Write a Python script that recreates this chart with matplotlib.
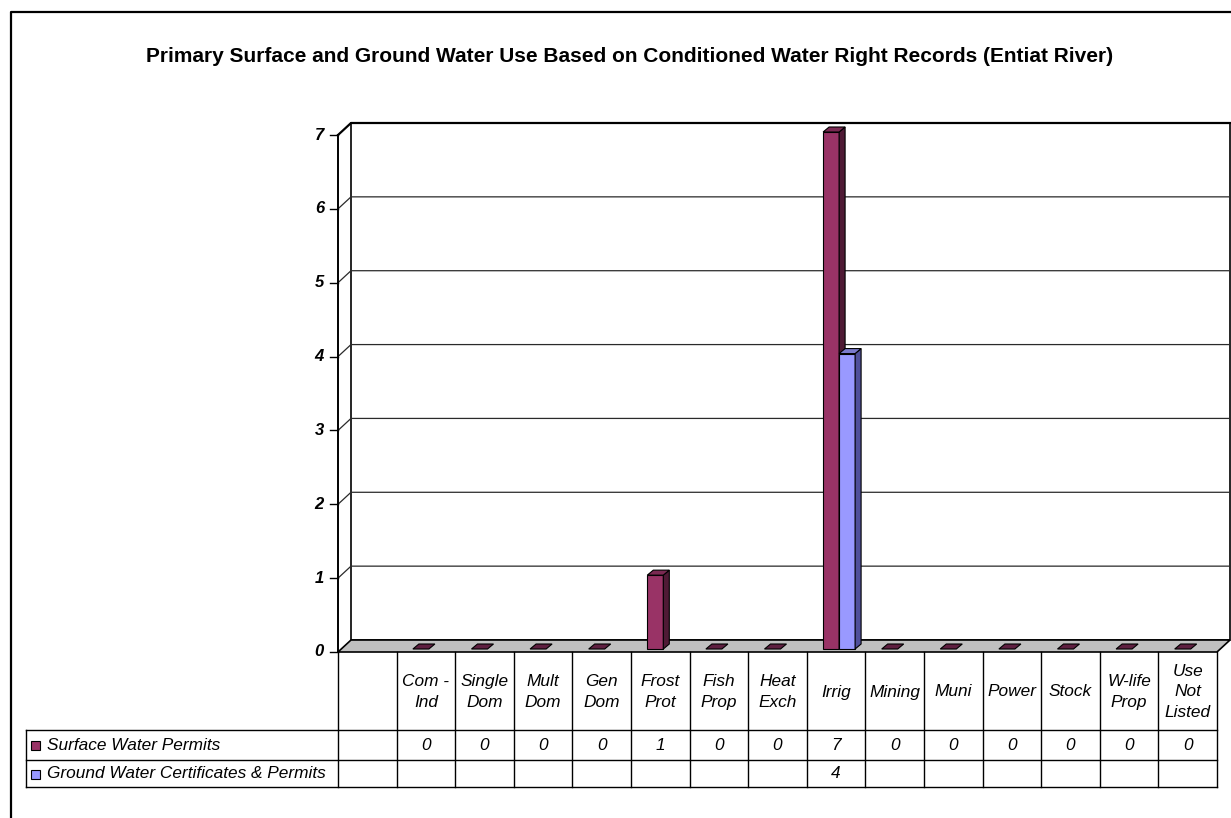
import matplotlib
matplotlib.use("Agg")
import matplotlib.pyplot as plt
from matplotlib.patches import Polygon, Rectangle
from matplotlib.lines import Line2D
from matplotlib.transforms import IdentityTransform


# Water right records per use category (Entiat River)
categories = [
    "Com -\nInd", "Single\nDom", "Mult\nDom", "Gen\nDom", "Frost\nProt",
    "Fish\nProp", "Heat\nExch", "Irrig", "Mining", "Muni", "Power",
    "Stock", "W-life\nProp", "Use\nNot\nListed",
]
surface_permits = [0, 0, 0, 0, 1, 0, 0, 7, 0, 0, 0, 0, 0, 0]
ground_certs = [None, None, None, None, None, None, None, 4,
                None, None, None, None, None, None]
series_names = ["Surface Water Permits", "Ground Water Certificates & Permits"]
y_ticks = [0, 1, 2, 3, 4, 5, 6, 7]

TITLE = ("Primary Surface and Ground Water Use Based on Conditioned "
         "Water Right Records (Entiat River)")

# series colours: front, side, top
COLORS = [
    ("#993366", "#4f1a35", "#7a2952"),
    ("#9999ff", "#50509a", "#7a7acc"),
]
FLOOR = "#c0c0c0"
FONT = "Liberation Sans"

W, H = 1231, 818
# front plane of the plot in pixels (left, right, y at top value, y at zero)
PL, PR, PT, PB = 338, 1217, 135, 652
DEPTH = (13, 12)          # wall depth offset (right, up)
BAR_FRONT = (3, 3)
BAR_BACK = (9, 8)
BAR_W = 0.273             # width of one bar in category units

fig = plt.figure(figsize=(W / 100, H / 100), dpi=100)
ax = fig.add_axes([PL / W, 1 - PB / H, (PR - PL) / W, (PB - PT) / H])
ax.set_xlim(-1.5, len(categories) - 0.5)
ax.set_ylim(0, 7)
ax.axis("off")

ov = fig.add_axes([0, 0, 1, 1])
ov.set_xlim(0, W)
ov.set_ylim(H, 0)
ov.axis("off")

ID = IdentityTransform()


def px(x, y, off=(0, 0)):
    xd, yd = ax.transData.transform((x, y))
    return (xd + off[0], yd + off[1])


def poly(pts, fc, ec="black", lw=0.8, z=2):
    ov.add_patch(Polygon(pts, closed=True, facecolor=fc, edgecolor=ec,
                         linewidth=lw, transform=ID, zorder=z, clip_on=False))


def line(pts, color="black", lw=1.0, z=2):
    xs, ys = zip(*pts)
    ov.add_line(Line2D(xs, ys, color=color, linewidth=lw, transform=ID,
                       zorder=z, clip_on=False))


x_lo, x_hi = ax.get_xlim()
y_top = max(y_ticks)

# back wall
poly([px(x_lo, 0, DEPTH), px(x_hi, 0, DEPTH), px(x_hi, y_top, DEPTH),
      px(x_lo, y_top, DEPTH)], "white", lw=1.2, z=1)

# gridlines on left side wall and back wall
for v in y_ticks[1:-1]:
    line([px(x_lo, v), px(x_lo, v, DEPTH), px(x_hi, v, DEPTH)],
         color="#2a2a2a", lw=0.9, z=1.5)
line([px(x_lo, y_top), px(x_lo, y_top, DEPTH), px(x_hi, y_top, DEPTH)],
     lw=1.6, z=1.6)

# floor
poly([px(x_lo, 0), px(x_hi, 0), px(x_hi, 0, DEPTH), px(x_lo, 0, DEPTH)],
     FLOOR, lw=1.2, z=1.7)

# value axis with ticks and labels
line([px(x_lo, 0), px(x_lo, y_top)], lw=1.4, z=3)
for v in y_ticks:
    x0, y0 = px(x_lo, v)
    line([(x0 - 8, y0), (x0, y0)], lw=1.0, z=3)
    ov.text(x0 - 14, H - y0, str(v), ha="right", va="center",
            fontsize=12, fontweight="bold", fontstyle="italic",
            family=FONT)

# columns
for s, values in enumerate([surface_permits, ground_certs]):
    front, side, top = COLORS[s]
    for i, v in enumerate(values):
        if v is None:
            continue
        xa = i - BAR_W if s == 0 else i
        xb = xa + BAR_W
        top_pts = [px(xa, v, BAR_FRONT), px(xb, v, BAR_FRONT),
                   px(xb, v, BAR_BACK), px(xa, v, BAR_BACK)]
        if v == 0:
            poly(top_pts, "#5e1f40", z=4 + s)
            continue
        poly([px(xa, 0, BAR_FRONT), px(xb, 0, BAR_FRONT),
              px(xb, v, BAR_FRONT), px(xa, v, BAR_FRONT)], front, z=4 + s)
        poly([px(xb, 0, BAR_FRONT), px(xb, 0, BAR_BACK),
              px(xb, v, BAR_BACK), px(xb, v, BAR_FRONT)], side, z=4 + s)
        poly(top_pts, top, z=4 + s)

# data table below the floor
edges = [px(i - 0.5, 0)[0] for i in range(-1, len(categories) + 1)]
table_left = 26
row_y = [PB, 730, 760, 787]
txt = dict(fontsize=12.4, fontstyle="italic", family=FONT, zorder=6)

for xe in edges:
    line([(xe, H - row_y[0]), (xe, H - row_y[-1])], lw=1.0)
for yr in row_y[1:]:
    line([(table_left, H - yr), (edges[-1], H - yr)], lw=1.0)
line([(table_left, H - row_y[1]), (table_left, H - row_y[-1])], lw=1.0)

for i, label in enumerate(categories):
    xc = (edges[i + 1] + edges[i + 2]) / 2
    ov.text(xc, (row_y[0] + row_y[1]) / 2 + 1, label, ha="center",
            va="center", linespacing=1.45, **txt)

for s, values in enumerate([surface_permits, ground_certs]):
    yc = (row_y[s + 1] + row_y[s + 2]) / 2
    ov.add_patch(Rectangle((31, yc - 4), 9, 9, facecolor=COLORS[s][0],
                           edgecolor="black", linewidth=0.8, zorder=6))
    ov.text(47, yc, series_names[s], ha="left", va="center", **txt)
    for i, v in enumerate(values):
        if v is None:
            continue
        xc = (edges[i + 1] + edges[i + 2]) / 2
        ov.text(xc, yc, str(v), ha="center", va="center", **txt)

# chart area frame and title
line([(11, 0), (11, H - 12), (W, H - 12)], lw=1.6)
ov.text(630, 56, TITLE, ha="center", va="center", fontsize=15,
        fontweight="bold", family=FONT)

fig.savefig("out.png", dpi=100)
